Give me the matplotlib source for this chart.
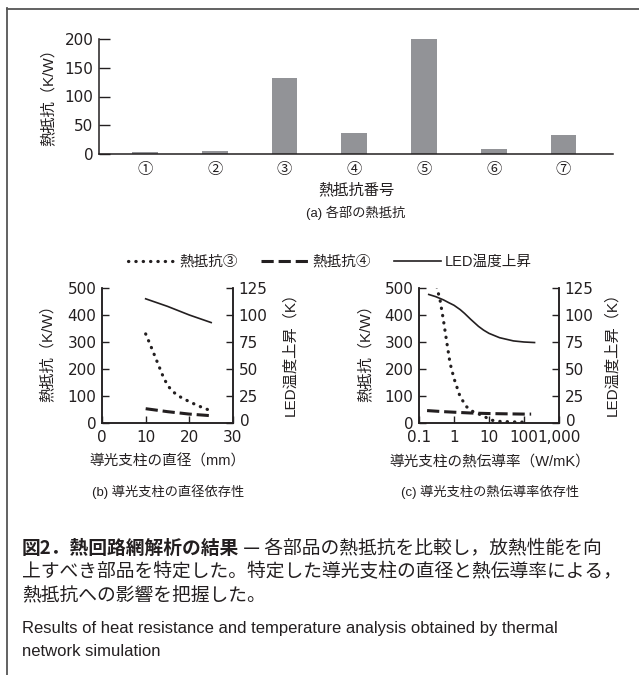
import matplotlib
matplotlib.use("Agg")
import matplotlib.pyplot as plt
import matplotlib.transforms as mtrans
from matplotlib.lines import Line2D

plt.rcParams['font.family'] = ['Liberation Sans', 'Noto Sans CJK JP']

INK = '#231f20'
BAR = '#929397'
W, H = 639, 675

# (a) thermal resistance of each part
part_labels = ['①', '②', '③', '④', '⑤', '⑥', '⑦']
part_resist = [3, 5, 133, 37, 200, 9, 33]

# (b) diameter dependence
dia_r3 = [10, 11, 12, 13, 14, 15, 16, 17, 18, 20, 22, 24, 25]
r3_dia = [330, 292, 252, 212, 172, 140, 120, 106, 96, 79, 64, 51, 46]
dia_r4 = [10, 15, 20, 25]
r4_dia = [53, 42, 33, 27]
dia_led = [10, 15, 20, 25]
led_dia = [115, 108, 100, 93]

# (c) conductivity dependence
k_r3 = [0.32, 0.4, 0.5, 0.62, 0.77, 1.0, 1.5, 2.3, 3.5, 7, 11, 20, 50, 130]
r3_k = [505, 455, 380, 300, 222, 165, 97, 60, 42, 26, 11, 6, 4, 3]
k_r4 = [0.17, 0.5, 1, 3, 10, 30, 100, 160]
r4_k = [46, 42, 40, 37, 35, 34, 33, 33]
k_led = [0.19, 0.3, 0.5, 0.7, 1, 1.5, 2, 3, 5, 7, 10, 20, 50, 100, 200]
led_k = [119, 117, 114, 111.5, 109, 105, 101.5, 96, 89.5, 86, 83, 79, 76,
         75, 74.5]

TICK_FONT = 'DejaVu Sans'


def box(l, t, r, b):
    return [l / W, 1 - b / H, (r - l) / W, (b - t) / H]


def style_axis(ax):
    ax.spines['top'].set_visible(False)
    for sp in ax.spines.values():
        sp.set_color(INK)
        sp.set_linewidth(1.1)
    ax.tick_params(direction='in', length=5, width=1.0, colors=INK,
                   labelsize=11, pad=4)
    for lab in ax.get_xticklabels() + ax.get_yticklabels():
        lab.set_family(TICK_FONT)


def raise_zero(ax, fig):
    # right-hand "0" sits a little above the corner, as in the original
    lab = ax.get_yticklabels()[0]
    lab.set_transform(lab.get_transform() +
                      mtrans.ScaledTranslation(1 / 100, 3 / 100,
                                               fig.dpi_scale_trans))


fig = plt.figure(figsize=(W / 100, H / 100), dpi=100)

# frame lines and captions on a background axes
bg = fig.add_axes([0, 0, 1, 1])
bg.set_xlim(0, W)
bg.set_ylim(H, 0)
bg.axis('off')
bg.plot([7, 7], [8, H], color='#555555', lw=1.3)
bg.plot([7, W], [8.5, 8.5], color='#555555', lw=1.3)

# ---- (a)
ax = fig.add_axes(box(99, 39, 613, 154))
ax.bar(range(len(part_resist)), part_resist, width=0.37, color=BAR)
ax.set_xlim(-0.66, 6.71)
ax.set_ylim(0, 200)
ax.set_yticks([0, 50, 100, 150, 200])
ax.set_xticks(range(len(part_labels)))
ax.set_xticklabels(part_labels)
ax.spines['right'].set_visible(False)
style_axis(ax)
for lab in ax.get_xticklabels():
    lab.set_family('Noto Sans CJK JP')
    lab.set_fontsize(11)
ax.tick_params(axis='y', length=8)
ax.tick_params(axis='x', length=0, pad=5)
bg.text(48, 94, '熱抵抗（K/W）', rotation=90, ha='center', va='center',
        fontsize=11, color=INK)
bg.text(356, 190, '熱抵抗番号', ha='center', va='center', fontsize=11,
        color=INK)
bg.text(356, 213, '(a) 各部の熱抵抗', ha='center', va='center', fontsize=9.5,
        color=INK)

dot_ls = dict(color=INK, lw=2.3, linestyle=(0, (0.1, 2.2)),
              dash_capstyle='round')
dash_ls = dict(color=INK, lw=2.2, linestyle=(0, (4, 1.6)))
solid_ls = dict(color=INK, lw=1.2)

# ---- (b)
axb = fig.add_axes(box(102, 288, 233, 423))
axb.plot(dia_r3, r3_dia, **dot_ls)
axb.plot(dia_r4, r4_dia, **dash_ls)
axb.set_xlim(0, 30)
axb.set_ylim(0, 500)
axb.set_xticks([0, 10, 20, 30])
axb.set_yticks([0, 100, 200, 300, 400, 500])
style_axis(axb)
axb.tick_params(axis='x', pad=5)
tb = axb.twinx()
tb.plot(dia_led, led_dia, **solid_ls)
tb.set_ylim(0, 125)
tb.set_yticks([0, 25, 50, 75, 100, 125])
style_axis(tb)
raise_zero(tb, fig)
bg.text(47, 350, '熱抵抗（K/W）', rotation=90, ha='center', va='center',
        fontsize=11, color=INK)
bg.text(290, 350, 'LED温度上昇（K）', rotation=90, ha='center', va='center',
        fontsize=11, color=INK)
bg.text(167, 462, '導光支柱の直径（mm）', ha='center', va='center',
        fontsize=10.5, color=INK)
bg.text(168, 492, '(b) 導光支柱の直径依存性', ha='center', va='center',
        fontsize=9.5, color=INK)

# ---- (c)
axc = fig.add_axes(box(419, 288, 559, 423))
axc.plot(k_r3, r3_k, **dot_ls)
axc.plot(k_r4, r4_k, **dash_ls)
axc.set_xscale('log')
axc.set_xlim(0.1, 1000)
axc.set_ylim(0, 500)
axc.set_xticks([0.1, 1, 10, 100, 1000])
axc.set_xticklabels(['0.1', '1', '10', '100', '1,000'])
axc.minorticks_off()
axc.set_yticks([0, 100, 200, 300, 400, 500])
style_axis(axc)
axc.tick_params(axis='x', pad=5)
tc = axc.twinx()
tc.plot(k_led, led_k, **solid_ls)
tc.set_ylim(0, 125)
tc.set_yticks([0, 25, 50, 75, 100, 125])
style_axis(tc)
raise_zero(tc, fig)
bg.text(365, 350, '熱抵抗（K/W）', rotation=90, ha='center', va='center',
        fontsize=11, color=INK)
bg.text(612, 350, 'LED温度上昇（K）', rotation=90, ha='center', va='center',
        fontsize=11, color=INK)
bg.text(490, 462, '導光支柱の熱伝導率（W/mK）', ha='center', va='center',
        fontsize=10.5, color=INK)
bg.text(490, 492, '(c) 導光支柱の熱伝導率依存性', ha='center', va='center',
        fontsize=9.5, color=INK)

# ---- legend
handles = [Line2D([], [], **dot_ls), Line2D([], [], **dash_ls),
           Line2D([], [], **solid_ls)]
fig.legend(handles, ['熱抵抗③', '熱抵抗④', 'LED温度上昇'],
           loc='center', bbox_to_anchor=(330 / W, 1 - 262 / H), ncol=3,
           frameon=False, fontsize=10.5, handlelength=3.2,
           handletextpad=0.3, columnspacing=1.6, labelcolor=INK)

# ---- figure caption
cap = bg.text(22, 548, '図2．熱回路網解析の結果', ha='left', va='center',
              fontsize=13.5, fontweight='bold', color=INK,
              family='Noto Sans CJK JP')
bg.annotate(' — 各部品の熱抵抗を比較し，放熱性能を向', xy=(1, 0.5),
            xycoords=cap, ha='left', va='center', fontsize=13.5, color=INK,
            family='Noto Sans CJK JP')
bg.text(22, 572, '上すべき部品を特定した。特定した導光支柱の直径と熱伝導率による，',
        ha='left', va='center', fontsize=13.5, color=INK,
        family='Noto Sans CJK JP')
bg.text(22, 596, '熱抵抗への影響を把握した。', ha='left', va='center',
        fontsize=13.5, color=INK, family='Noto Sans CJK JP')
bg.text(22, 628, 'Results of heat resistance and temperature analysis '
        'obtained by thermal', ha='left', va='center', fontsize=12,
        color=INK)
bg.text(22, 652, 'network simulation', ha='left', va='center', fontsize=12,
        color=INK)

fig.savefig('out.png', dpi=100)
